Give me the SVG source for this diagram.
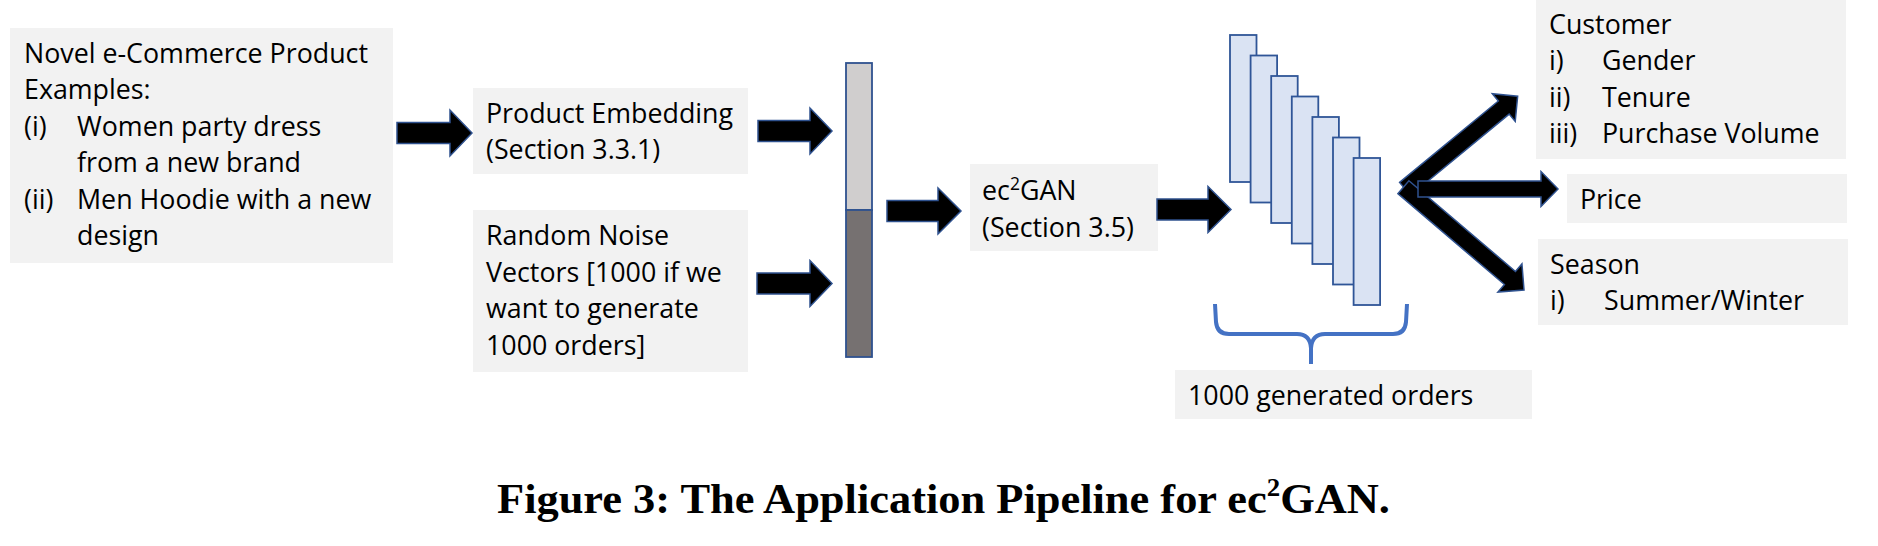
<svg xmlns="http://www.w3.org/2000/svg" width="1878" height="546" viewBox="0 0 1878 546">
<style>
.box{fill:#f2f2f2;stroke:none}
.t{font-family:'Open Sans','Noto Sans','DejaVu Sans',sans-serif;font-size:26.8px;fill:#000}
.arr{fill:#000;stroke:#2f528f;stroke-width:1.5;stroke-linejoin:miter}
.bar{stroke:#2f528f;stroke-width:1.8}
.ord{fill:#dae3f3;stroke:#2f5597;stroke-width:1.8}
.brace{fill:none;stroke:#4472c4;stroke-width:4;stroke-linecap:butt}
.cap{font-family:'Liberation Serif','Times New Roman',serif;font-weight:bold;font-size:43px;fill:#000}
</style>
<rect width="1878" height="546" fill="#fff"/>
<g id="examples">
<rect class="box" x="10" y="28" width="383" height="235"/>
<text class="t" x="24" y="62.5">Novel e-Commerce Product</text>
<text class="t" x="24" y="99">Examples:</text>
<text class="t" x="24" y="135.5">(i)</text>
<text class="t" x="77" y="135.5">Women party dress</text>
<text class="t" x="77" y="172">from a new brand</text>
<text class="t" x="24" y="208.5">(ii)</text>
<text class="t" x="77" y="208.5">Men Hoodie with a new</text>
<text class="t" x="77" y="245">design</text>
</g>
<g id="product-embedding">
<rect class="box" x="473" y="88" width="275" height="86"/>
<text class="t" x="486" y="123">Product Embedding</text>
<text class="t" x="486" y="159">(Section 3.3.1)</text>
</g>
<g id="random-noise">
<rect class="box" x="473" y="210" width="275" height="162"/>
<text class="t" x="486" y="245">Random Noise</text>
<text class="t" x="486" y="281.5">Vectors [1000 if we</text>
<text class="t" x="486" y="318">want to generate</text>
<text class="t" x="486" y="354.5">1000 orders]</text>
</g>
<g id="concat-vector">
<rect class="bar" x="846" y="63" width="26" height="147" fill="#d0cece"/>
<rect class="bar" x="846" y="210" width="26" height="147" fill="#767171"/>
</g>
<g id="ec2gan">
<rect class="box" x="970" y="164" width="188" height="87"/>
<text class="t" x="982" y="200">ec<tspan font-size="17.5" dy="-10">2</tspan><tspan dy="10">GAN</tspan></text>
<text class="t" x="982" y="237">(Section 3.5)</text>
</g>
<g id="generated-orders">
<rect class="ord" x="1230" y="35" width="26.5" height="147"/>
<rect class="ord" x="1250.6" y="55.5" width="26.5" height="147"/>
<rect class="ord" x="1271.2" y="76" width="26.5" height="147"/>
<rect class="ord" x="1291.8" y="96.5" width="26.5" height="147"/>
<rect class="ord" x="1312.4" y="117" width="26.5" height="147"/>
<rect class="ord" x="1333" y="137.5" width="26.5" height="147"/>
<rect class="ord" x="1353.6" y="158" width="26.5" height="147"/>
<path class="brace" d="M1215,304 L1216,322 Q1217,334 1229,334 L1297,334 Q1310,334 1311,348 L1311,364 M1311,348 Q1312,334 1325,334 L1393,334 Q1405,334 1406,322 L1407,304"/>
</g>
<g id="orders-label">
<rect class="box" x="1175" y="370" width="357" height="49"/>
<text class="t" x="1188" y="404.5">1000 generated orders</text>
</g>
<g id="customer">
<rect class="box" x="1536" y="0" width="310" height="159"/>
<text class="t" x="1549" y="33.5">Customer</text>
<text class="t" x="1549" y="70">i)</text>
<text class="t" x="1602" y="70">Gender</text>
<text class="t" x="1549" y="106.5">ii)</text>
<text class="t" x="1602" y="106.5">Tenure</text>
<text class="t" x="1549" y="143">iii)</text>
<text class="t" x="1602" y="143">Purchase Volume</text>
</g>
<g id="price">
<rect class="box" x="1567" y="174" width="280" height="49"/>
<text class="t" x="1580" y="209">Price</text>
</g>
<g id="season">
<rect class="box" x="1538" y="239" width="310" height="86"/>
<text class="t" x="1550" y="274">Season</text>
<text class="t" x="1550" y="310">i)</text>
<text class="t" x="1604" y="310">Summer/Winter</text>
</g>
<g id="connectors">
<polygon class="arr" points="397,122.5 450,122.5 450,110 472,133 450,156 450,143.5 397,143.5"/>
<polygon class="arr" points="758,120.5 810,120.5 810,108 832,131 810,154 810,141.5 758,141.5"/>
<polygon class="arr" points="757,273 810,273 810,260.5 832,283.5 810,306.5 810,294 757,294"/>
<polygon class="arr" points="887,200.5 938,200.5 938,188 961,211 938,234 938,221.5 887,221.5"/>
<polygon class="arr" points="1157,199 1208,199 1208,186.5 1231,209.5 1208,232.5 1208,220 1157,220"/>
<polygon class="arr" transform="translate(1405,189) rotate(-39.5)" points="0,-8.5 128,-8.5 128,-18 146,0 128,18 128,8.5 0,8.5"/>
<polygon class="arr" transform="translate(1403.4,187.2) rotate(40.45)" points="0,-8.5 140,-8.5 140,-18.5 158.5,0 140,18.5 140,8.5 0,8.5"/>
<polygon class="arr" points="1418,181 1541,181 1541,171.5 1558,189 1541,206.5 1541,197 1418,197"/>
</g>
<g id="caption">
<text class="cap" x="497" y="513" textLength="893" lengthAdjust="spacingAndGlyphs">Figure 3: The Application Pipeline for ec<tspan font-size="26" dy="-17">2</tspan><tspan dy="17">GAN.</tspan></text>
</g>
</svg>
